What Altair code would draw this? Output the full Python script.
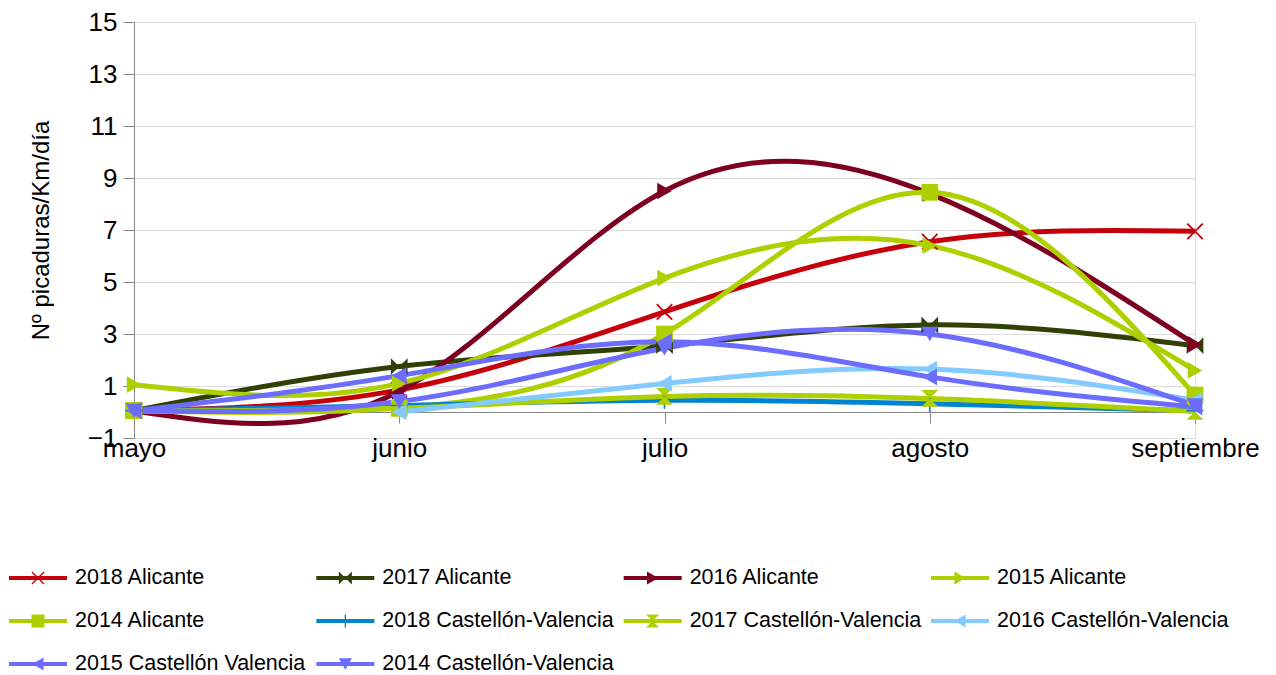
import altair as alt
import pandas as pd

months = ["mayo", "junio", "julio", "agosto", "septiembre"]
series = [
    "2018 Alicante", "2017 Alicante", "2016 Alicante", "2015 Alicante", "2014 Alicante",
    "2018 Castellón-Valencia", "2017 Castellón-Valencia", "2016 Castellón-Valencia",
    "2015 Castellón Valencia", "2014 Castellón-Valencia",
]
ali_2018 = [0.05, 0.85, 3.85, 6.55, 6.95]
ali_2017 = [0.05, 1.75, 2.55, 3.35, 2.55]
ali_2016 = [0.05, 0.8, 8.5, 8.4, 2.6]
ali_2015 = [1.05, 1.1, 5.15, 6.4, 1.6]
ali_2014 = [0.05, 0.15, 3.0, 8.45, 0.65]
cv_2018 = [0.05, 0.25, 0.45, 0.32, 0.05]
cv_2017 = [0.05, 0.15, 0.6, 0.52, 0.02]
cv_2016 = [None, 0.0, 1.1, 1.65, 0.45]
cv_2015 = [0.05, 1.4, 2.7, 1.35, 0.2]
cv_2014 = [0.05, 0.4, 2.45, 3.0, 0.25]
all_values = [ali_2018, ali_2017, ali_2016, ali_2015, ali_2014,
              cv_2018, cv_2017, cv_2016, cv_2015, cv_2014]

colors = ["#c5000b", "#314004", "#7e0021", "#aecf00", "#aecf00",
          "#0084d1", "#aecf00", "#83caff", "#6c6cff", "#6c6cff"]
X_SHAPE = "M-1,-0.85L-0.85,-1L0,-0.15L0.85,-1L1,-0.85L0.15,0L1,0.85L0.85,1L0,0.15L-0.85,1L-1,0.85L-0.15,0Z"
PLUS_SHAPE = "M-0.1,-1L0.1,-1L0.1,-0.1L1,-0.1L1,0.1L0.1,0.1L0.1,1L-0.1,1L-0.1,0.1L-1,0.1L-1,-0.1L-0.1,-0.1Z"
BOWTIE = "M-1,-1L0,0L-1,1ZM1,-1L0,0L1,1Z"
HOURGLASS = "M-1,-1L1,-1L0,0ZM-1,1L1,1L0,0Z"
shapes = [X_SHAPE, BOWTIE, "triangle-right", "triangle-right", "square",
          PLUS_SHAPE, HOURGLASS, "triangle-left", "triangle-left", "triangle-down"]

rows = []
for s, vals in zip(series, all_values):
    for m, v in zip(months, vals):
        if v is not None:
            rows.append({"series": s, "month": m, "value": v})
df = pd.DataFrame(rows)

leg_df = pd.DataFrame({
    "series": series,
    "col": [i % 4 for i in range(len(series))],
    "row": [i // 4 for i in range(len(series))],
})

FONT = "Liberation Sans"
GRAY = "#b3b3b3"

color = alt.Color("series:N", scale=alt.Scale(domain=series, range=colors), legend=None)
shape = alt.Shape("series:N", scale=alt.Scale(domain=series, range=shapes), legend=None)

x = alt.X("month:N", sort=months, scale=alt.Scale(type="point", padding=0),
          axis=alt.Axis(title=None, offset=-26, tickSize=11, labelPadding=12,
                        labelFontSize=26, labelAngle=0, labelFlush=False, grid=False))
y = alt.Y("value:Q", scale=alt.Scale(domain=[-1, 15], nice=False, zero=False),
          axis=alt.Axis(values=[-1, 1, 3, 5, 7, 9, 11, 13, 15], title="Nº picaduras/Km/día",
                        tickSize=11, labelPadding=6, labelFontSize=26, titleFontSize=24,
                        titleFontWeight="normal", titlePadding=34, grid=True))

base = alt.Chart(df)
lines = base.mark_line(interpolate="natural", strokeWidth=5).encode(x=x, y=y, color=color)
points = base.mark_point(filled=True, size=280, opacity=1).encode(x=x, y=y, color=color, shape=shape)

lx = alt.X("col:Q", scale=alt.Scale(domain=[0, 3], range=[-96, 826]), axis=None)
ly = alt.Y("row:Q", scale=alt.Scale(domain=[0, 2], range=[556, 642], zero=False, nice=False), axis=None)
leg = alt.Chart(leg_df)
leg_line = leg.mark_point(shape="stroke", size=3364, strokeWidth=4, filled=False, opacity=1).encode(
    x=lx, y=ly, color=color)
leg_pt = leg.mark_point(filled=True, size=170, opacity=1).encode(x=lx, y=ly, color=color, shape=shape)
leg_txt = leg.mark_text(align="left", baseline="middle", dx=37, fontSize=21.5, font=FONT,
                        color="#000000").encode(x=lx, y=ly, text="series:N")

chart = alt.layer(
    alt.layer(lines, points),
    alt.layer(leg_line, leg_pt, leg_txt),
).resolve_scale(x="independent", y="independent").properties(
    width=1061, height=416,
    autosize=alt.AutoSizeParams(type="none"),
    padding={"left": 126, "top": 14, "right": 72, "bottom": 250},
).configure_view(stroke=GRAY, strokeWidth=1).configure_axis(
    domainColor=GRAY, tickColor=GRAY, gridColor=GRAY, labelColor="#000000",
    titleColor="#000000", labelFont=FONT, titleFont=FONT,
).configure(background="white")

chart.save("out.html", embed_options={"renderer": "svg", "actions": False})
